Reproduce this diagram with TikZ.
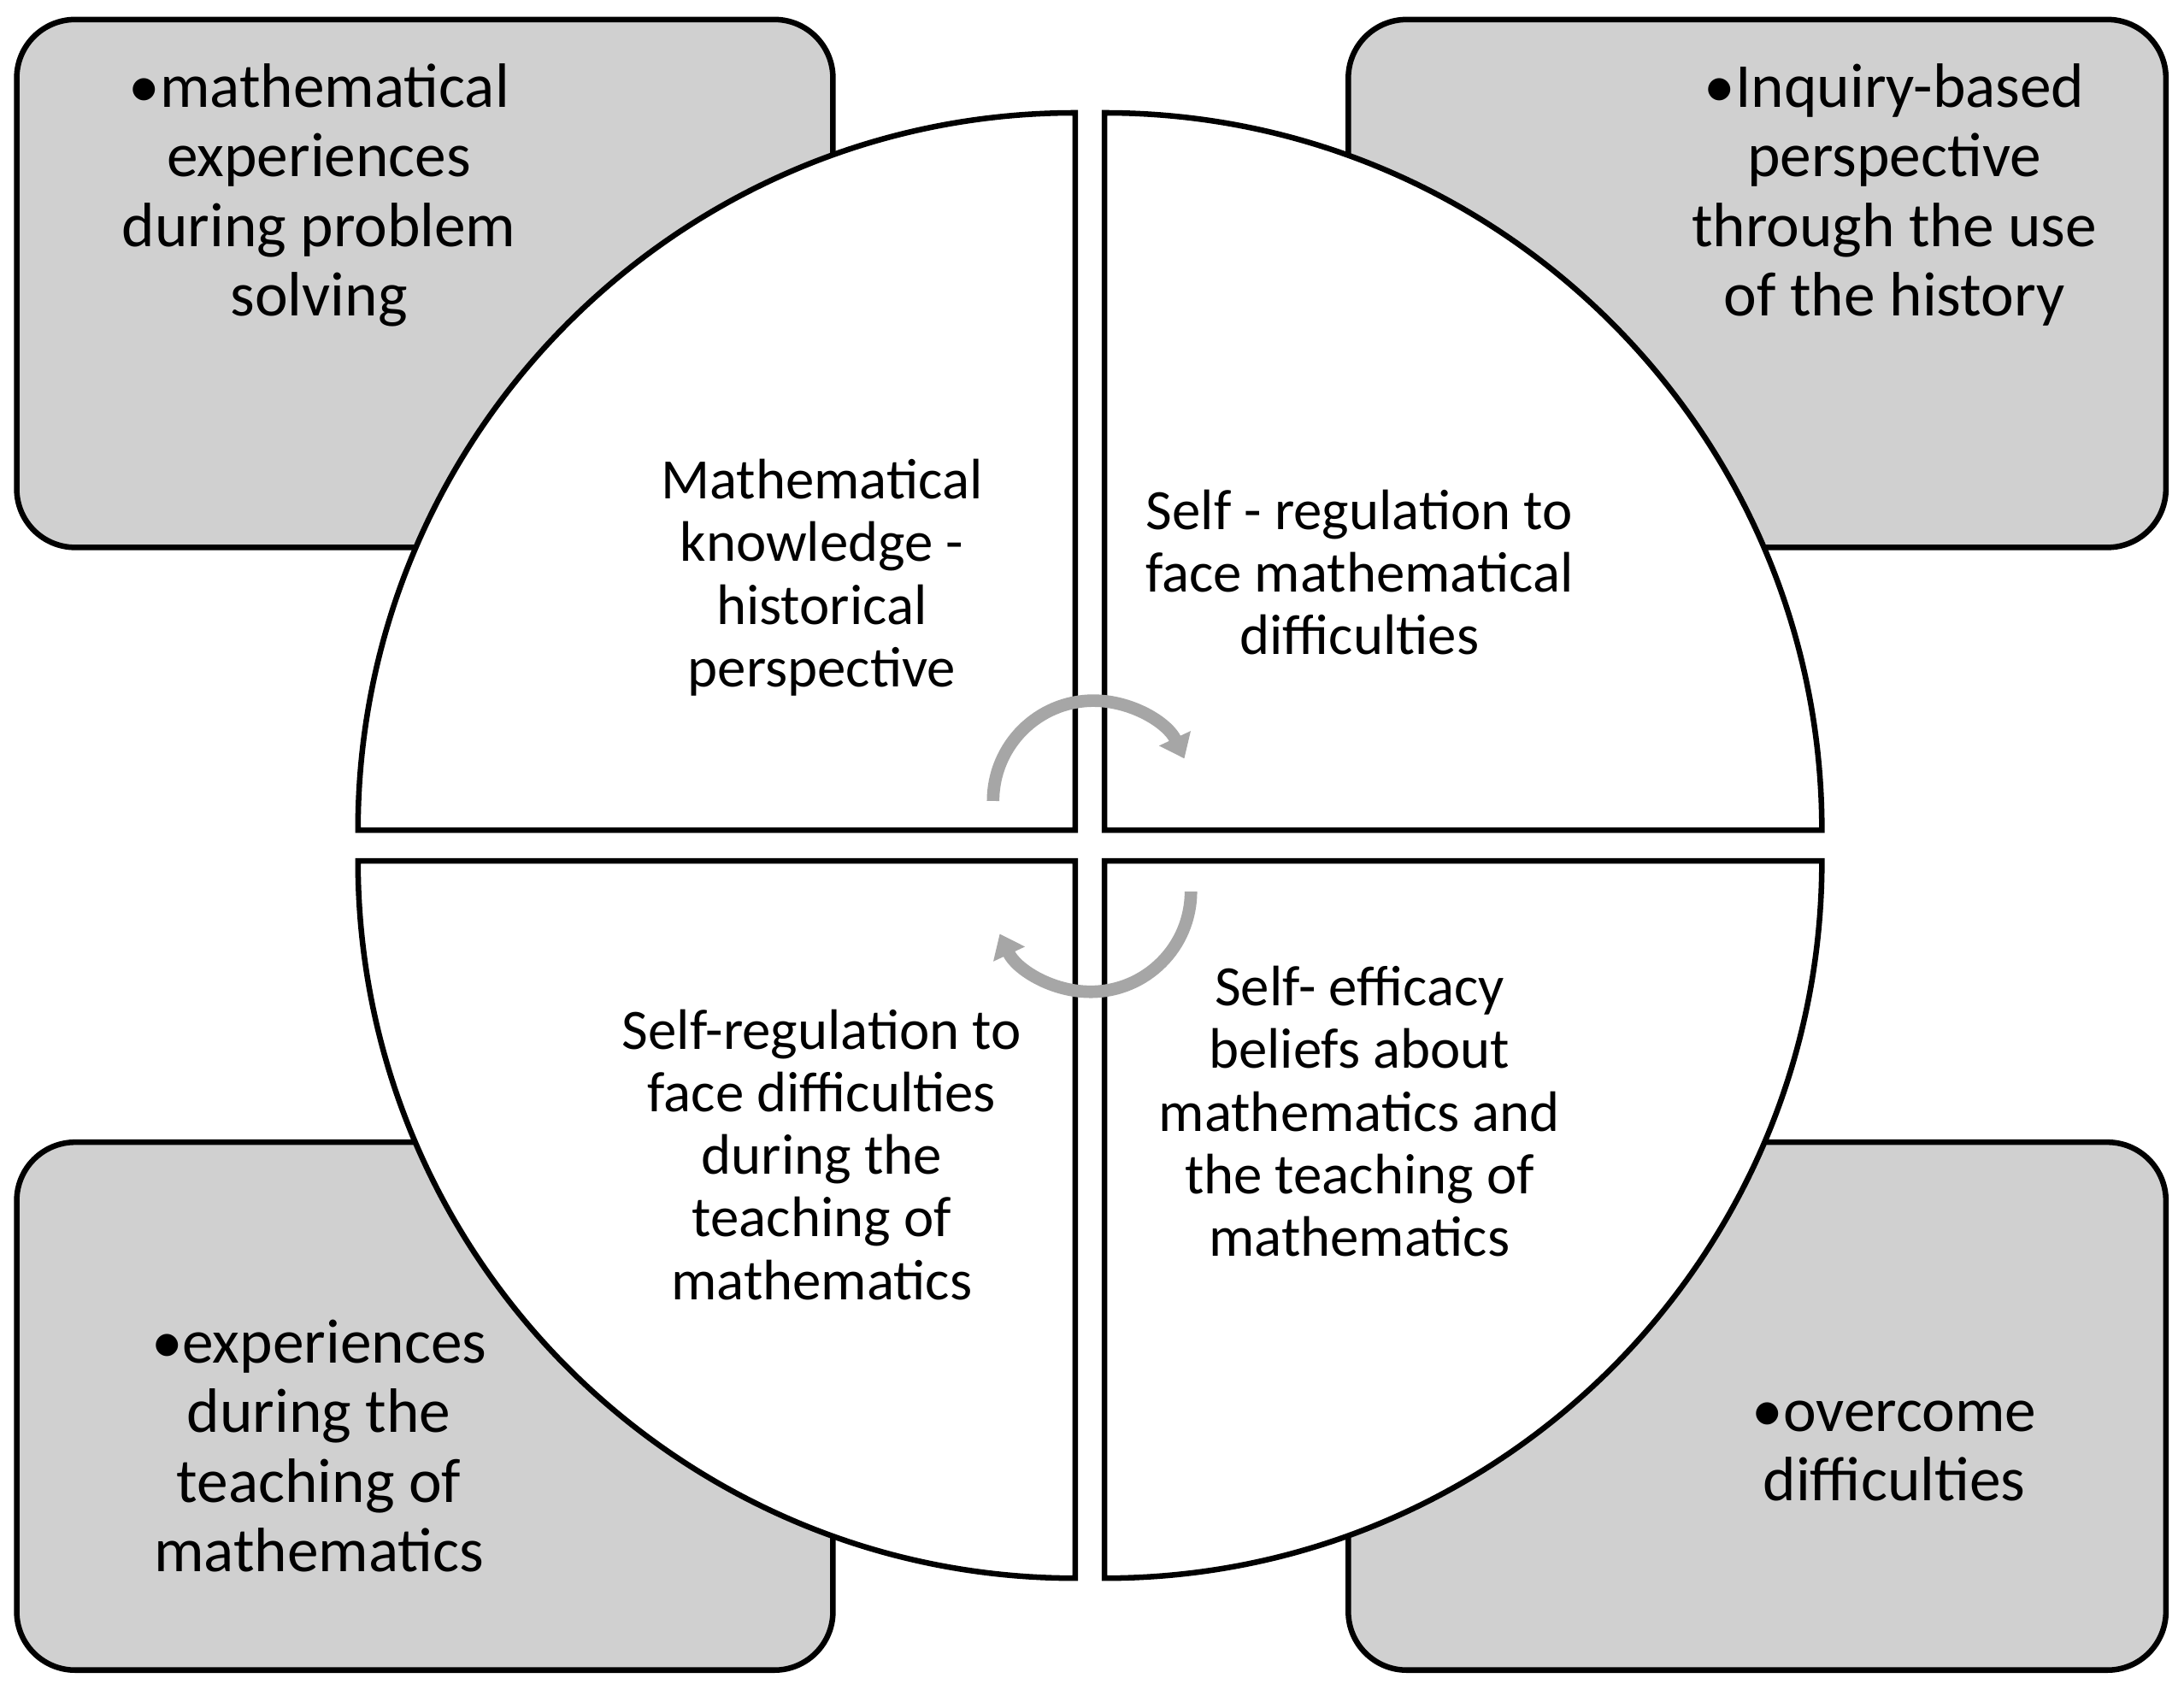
\documentclass[tikz,border=0pt]{standalone}
\usepackage{fontspec}
\setmainfont{Carlito}
\usetikzlibrary{arrows.meta}
\definecolor{boxgray}{HTML}{D0D0D0}
\definecolor{arrgray}{HTML}{A6A6A6}
\begin{document}
\begin{tikzpicture}[x=1pt,y=-1pt,
  box/.style={draw=black,line width=4pt,fill=boxgray,rounded corners=42pt},
  quad/.style={draw=black,line width=4pt,fill=white},
  btxt/.style={align=center,font=\fontsize{45}{50}\selectfont,text=black},
  qtxt/.style={align=center,font=\fontsize{41}{45}\selectfont,text=black},
  cyc/.style={draw=arrgray,line width=9pt,-{Triangle[length=16pt,width=24pt]}}]
\useasboundingbox (0,0) rectangle (1568,1213);
% boxes
\path[box] (12,14) rectangle (598,393);
\path[box] (968,14) rectangle (1555,393);
\path[box] (12,820) rectangle (598,1199);
\path[box] (968,820) rectangle (1555,1199);
% quadrants
\path[quad] (772,596) -- (257,596) arc[start angle=180,end angle=270,radius=515] -- cycle;
\path[quad] (793,596) -- (793,81) arc[start angle=270,end angle=360,radius=515] -- cycle;
\path[quad] (772,618) -- (772,1133) arc[start angle=90,end angle=180,radius=515] -- cycle;
\path[quad] (793,618) -- (1308,618) arc[start angle=0,end angle=90,radius=515] -- cycle;
% cycle arrows
\draw[cyc] (713,575) arc[start angle=180,end angle=335,radius=72];
\draw[cyc] (855,640) arc[start angle=0,end angle=155,radius=72];
% box texts
\node[btxt,anchor=north] (t1) at (229,42) {•mathematical\\experiences\\during problem\\solving};
\node[btxt,anchor=north] (t2) at (1360,42) {•Inquiry-based\\perspective\\through the use\\of the history};
\node[btxt,anchor=north] (t3) at (229,944) {•experiences\\during the\\teaching of\\mathematics};
\node[btxt,anchor=north] (t4) at (1360,1002) {•overcome\\difficulties};
% quadrant texts
\node[qtxt,anchor=north] (q1) at (590,326) {Mathematical\\knowledge -\\historical\\perspective};
\node[qtxt,anchor=north] (q2) at (976,348) {Self - regulation to\\face mathematical\\difficulties};
\node[qtxt,anchor=north] (q3) at (590,721) {Self-regulation to\\face difficulties\\during the\\teaching of\\mathematics};
\node[qtxt,anchor=north] (q4) at (976,690) {Self- efficacy\\beliefs about\\mathematics and\\the teaching of\\mathematics};
\end{tikzpicture}
\end{document}
